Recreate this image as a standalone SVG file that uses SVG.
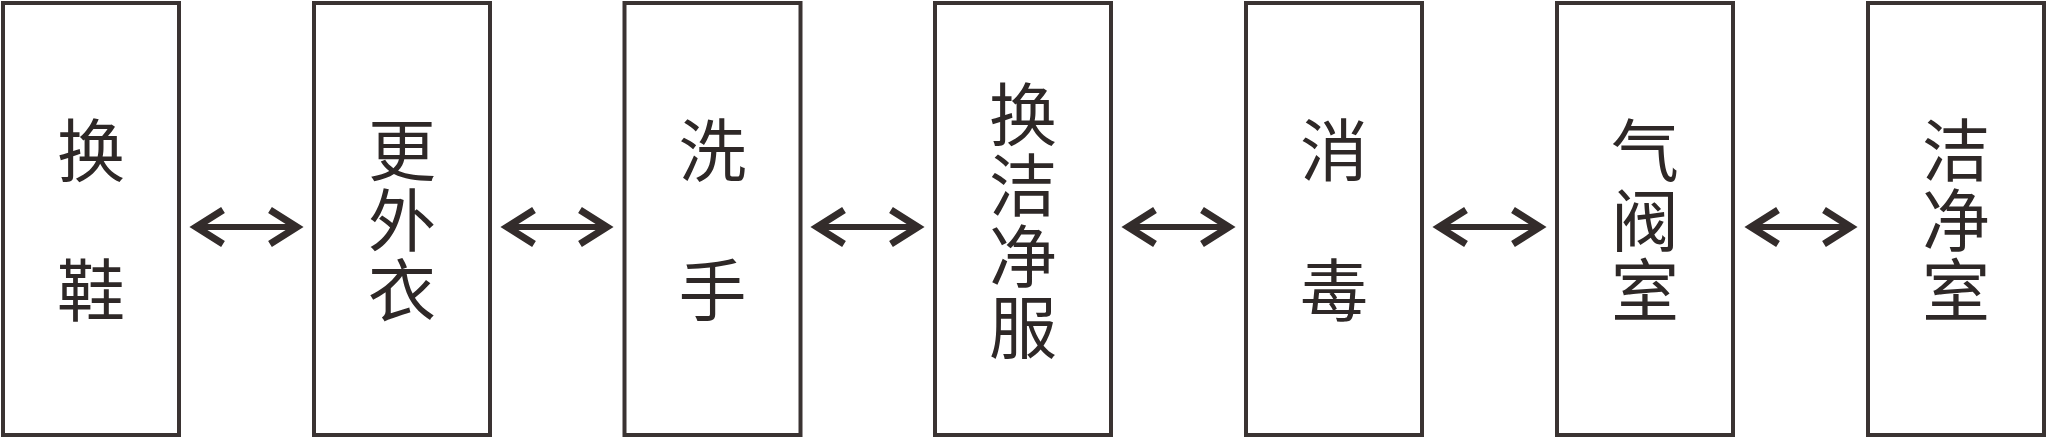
<svg xmlns="http://www.w3.org/2000/svg" width="2048" height="439" viewBox="0 0 2048 439">
<style>
.box{fill:#ffffff;stroke:#3a3332;stroke-width:4}
.lbl{font-family:"Noto Sans CJK SC","Noto Sans CJK TC",sans-serif;font-size:68px;fill:#2e2827;writing-mode:vertical-rl;text-anchor:start}
.s2{letter-spacing:72px}
.s3{letter-spacing:2px}
.s4{letter-spacing:3px}
.ln{fill:none;stroke:#332c2b;stroke-width:6}
.hd{fill:none;stroke:#332c2b;stroke-width:7;stroke-linejoin:miter;stroke-miterlimit:10}
</style>
<rect width="2048" height="439" fill="#ffffff"/>
<g id="n1"><rect class="box" x="3" y="3" width="176" height="432"/>
<text class="lbl s2" x="91" y="116">换鞋</text></g>
<g id="n2"><rect class="box" x="314" y="3" width="176" height="432"/>
<text class="lbl s3" x="402" y="116">更外衣</text></g>
<g id="n3"><rect class="box" x="624.5" y="3" width="176" height="432"/>
<text class="lbl s2" x="712.5" y="116">洗手</text></g>
<g id="n4"><rect class="box" x="935" y="3" width="176" height="432"/>
<text class="lbl s4" x="1023" y="80">换洁净服</text></g>
<g id="n5"><rect class="box" x="1246" y="3" width="176" height="432"/>
<text class="lbl s2" x="1334" y="116">消毒</text></g>
<g id="n6"><rect class="box" x="1557" y="3" width="176" height="432"/>
<text class="lbl s3" x="1645" y="116">气阀室</text></g>
<g id="n7"><rect class="box" x="1868" y="3" width="176" height="432"/>
<text class="lbl s3" x="1956" y="116">洁净室</text></g>
<g id="connectors">
<path class="ln" d="M196 227H297"/><path class="hd" d="M223 210L196 227L223 244M270 210L297 227L270 244"/>
<path class="ln" d="M507 227H607"/><path class="hd" d="M534 210L507 227L534 244M580 210L607 227L580 244"/>
<path class="ln" d="M817 227H918"/><path class="hd" d="M844 210L817 227L844 244M891 210L918 227L891 244"/>
<path class="ln" d="M1128 227H1229"/><path class="hd" d="M1155 210L1128 227L1155 244M1202 210L1229 227L1202 244"/>
<path class="ln" d="M1439 227H1540"/><path class="hd" d="M1466 210L1439 227L1466 244M1513 210L1540 227L1513 244"/>
<path class="ln" d="M1751 227H1851"/><path class="hd" d="M1778 210L1751 227L1778 244M1824 210L1851 227L1824 244"/>
</g>
</svg>
